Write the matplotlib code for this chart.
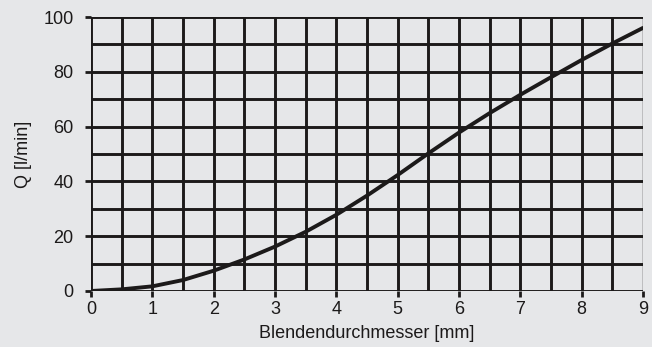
import matplotlib

matplotlib.use("Agg", force=True)
import matplotlib.pyplot as plt
import numpy as np

plt.rcParams["font.family"] = ["Liberation Sans", "DejaVu Sans"]

BG = "#e6e7e9"
INK = "#1c1a1a"

# curve
diameter = [0, 0.5, 1.0, 1.5, 2.0, 2.5, 3.0, 3.5, 4.0, 4.5, 5.0, 5.5, 6.0, 6.5, 7.0, 7.5, 8.0, 8.5, 9.0]
flow = [0, 0.6, 1.7, 4.0, 7.4, 11.5, 16.2, 21.6, 27.8, 34.8, 42.3, 50.2, 57.8, 64.9, 71.6, 78.0, 84.3, 90.3, 96.0]

x_ticks = [0, 1, 2, 3, 4, 5, 6, 7, 8, 9]
y_ticks = [0, 20, 40, 60, 80, 100]
x_grid = np.arange(0, 9.01, 0.5)
y_grid = np.arange(0, 100.1, 10)

fig = plt.figure(figsize=(6.52, 3.47), dpi=100, facecolor=BG)
ax = fig.add_axes([0.1396, 0.1614, 0.8464, 0.7896], facecolor=BG)

for xv in x_grid:
    ax.axvline(xv, color=INK, lw=2.1 if xv < 9 else 1.0, zorder=1)
for yv in y_grid:
    ax.axhline(yv, color=INK, lw=2.1, zorder=1)

ax.plot(diameter, flow, color=INK, lw=2.8, solid_capstyle="round",
        solid_joinstyle="round", zorder=3)

ax.set_xlim(0, 9)
ax.set_ylim(0, 100)
ax.set_xticks(x_ticks)
ax.set_yticks(y_ticks)
ax.tick_params(axis="both", direction="out", length=4.5, width=2, color=INK,
               labelsize=13, labelcolor=INK)
ax.tick_params(axis="y", pad=8)
ax.tick_params(axis="x", pad=3)
for side in ["top", "right", "left", "bottom"]:
    ax.spines[side].set_visible(False)

ax.set_xlabel("Blendendurchmesser [mm]", fontsize=13, color=INK, labelpad=5)
ax.set_ylabel("Q [l/min]", fontsize=13, color=INK, labelpad=8)

fig.savefig("out.png", dpi=100, facecolor=BG)
plt.close(fig)
